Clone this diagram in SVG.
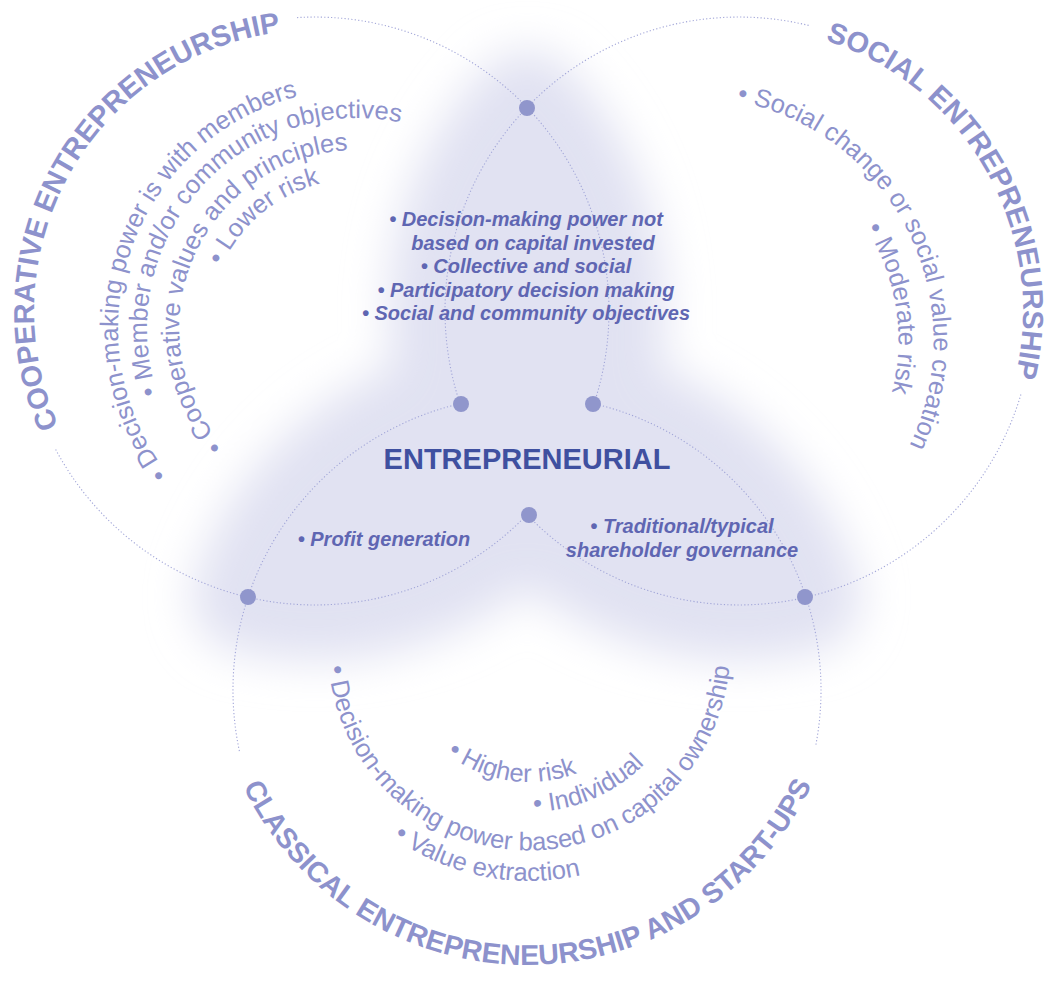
<svg xmlns="http://www.w3.org/2000/svg" width="1044" height="985" viewBox="0 0 1044 985">
<defs>
<style>
text{font-family:"Liberation Sans",Arial,sans-serif}
.title{font-size:29px;font-weight:bold;fill:#8d92cc}
.bul{font-size:25.5px;fill:#8d92cc}
.ctr{font-size:20px;font-weight:bold;font-style:italic;fill:#5f66b2;text-anchor:middle}
.main{font-size:29px;font-weight:bold;fill:#3f50a0;text-anchor:middle}
.dot{fill:none;stroke:#a2a6d8;stroke-width:1.1;stroke-dasharray:1.2 2.2}
.node{fill:#9096cc}
</style>
<filter id="blur" x="-40%" y="-40%" width="180%" height="180%"><feGaussianBlur stdDeviation="22"/></filter>
<path id="tCoop" d="M58.5,425.7 A281,281 0 0 1 339.5,31.1"/>
<path id="tSoc" d="M825.3,40.4 A284,284 0 0 1 996.4,431.0"/>
<path id="tCla" d="M243.2,786.6 A315,315 0 0 0 823.0,757.7"/>
<path id="c1" d="M167.9,474.1 A239,239 0 0 1 323.7,91.3"/>
<path id="c2" d="M157.5,393.6 A210,210 0 0 1 428.8,130.7"/>
<path id="c3" d="M223.7,445.9 A178,178 0 0 1 372.5,150.7"/>
<path id="c4" d="M221.6,265.7 A149,149 0 0 1 344.0,179.6"/>
<path id="s1" d="M736.9,101.1 A243.5,243.5 0 0 1 889.5,479.7"/>
<path id="s2" d="M866.0,228.3 A208.5,208.5 0 0 1 879.0,428.1"/>
<path id="k1" d="M328.7,666.2 A201,201 0 0 0 730,649"/>
<path id="k2" d="M393.3,837.2 A232,232 0 0 0 645,849.9"/>
<path id="k3" d="M533.5,811.9 A163,163 0 0 0 670.2,730.5"/>
<path id="k4" d="M446.6,753.4 A133,133 0 0 0 605.3,758.0"/>
</defs>
<rect width="1044" height="985" fill="#ffffff"/>
<g id="glow" filter="url(#blur)" fill="#e1e2f2" stroke="#e1e2f2" stroke-width="112" stroke-linejoin="round">
<path d="M527,107 A294,294 0 0 1 527,515 A294,294 0 0 1 527,107 Z"/>
<path d="M248,597 A294,294 0 0 0 593,404 A294,294 0 0 0 248,597 Z"/>
<path d="M805,597 A294,294 0 0 1 461,404 A294,294 0 0 1 805,597 Z"/>
</g>
<g id="connectors">
<path class="dot" d="M297.1,17.6 A294,294 0 0 1 593.8,404.3"/>
<path class="dot" d="M527.9,513.7 A294,294 0 0 1 55.4,449.0"/>
<path class="dot" d="M460.2,404.3 A294,294 0 0 1 808.6,25.4"/>
<path class="dot" d="M1020.9,394.5 A294,294 0 0 1 526.1,513.7"/>
<path class="dot" d="M239.4,751.1 A294,294 0 0 1 460.9,403.5"/>
<path class="dot" d="M593.1,403.5 A294,294 0 0 1 815.9,744.6"/>
</g>
<g id="intersections">
<circle class="node" cx="527" cy="108" r="8"/>
<circle class="node" cx="461" cy="404" r="8"/>
<circle class="node" cx="593" cy="404" r="8"/>
<circle class="node" cx="529" cy="515" r="8"/>
<circle class="node" cx="248" cy="597" r="8"/>
<circle class="node" cx="805" cy="597" r="8"/>
</g>
<g id="node-cooperative">
<text class="title"><textPath href="#tCoop">COOPERATIVE ENTREPRENEURSHIP</textPath></text>
<text class="bul"><textPath href="#c1">• Decision-making power is with members</textPath></text>
<text class="bul"><textPath href="#c2">• Member and/or community objectives</textPath></text>
<text class="bul"><textPath href="#c3">• Cooperative values and principles</textPath></text>
<text class="bul"><textPath href="#c4">• Lower risk</textPath></text>
</g>
<g id="node-social">
<text class="title"><textPath href="#tSoc">SOCIAL ENTREPRENEURSHIP</textPath></text>
<text class="bul"><textPath href="#s1">• Social change or social value creation</textPath></text>
<text class="bul"><textPath href="#s2">• Moderate risk</textPath></text>
</g>
<g id="node-classical">
<text class="title" style="font-size:28.5px"><textPath href="#tCla">CLASSICAL ENTREPRENEURSHIP AND START-UPS</textPath></text>
<text class="bul"><textPath href="#k1">• Decision-making power based on capital ownership</textPath></text>
<text class="bul"><textPath href="#k2">• Value extraction</textPath></text>
<text class="bul"><textPath href="#k3">• Individual</textPath></text>
<text class="bul"><textPath href="#k4">• Higher risk</textPath></text>
</g>
<g id="node-center">
<text class="ctr" x="526" y="226">• Decision-making power not</text>
<text class="ctr" x="533" y="249.5">based on capital invested</text>
<text class="ctr" x="526" y="273">• Collective and social</text>
<text class="ctr" x="526" y="296.5">• Participatory decision making</text>
<text class="ctr" x="526" y="320">• Social and community objectives</text>
<text class="main" x="527" y="469">ENTREPRENEURIAL</text>
<text class="ctr" x="384" y="546">• Profit generation</text>
<text class="ctr" x="682" y="533">• Traditional/typical</text>
<text class="ctr" x="682" y="557">shareholder governance</text>
</g>
</svg>
